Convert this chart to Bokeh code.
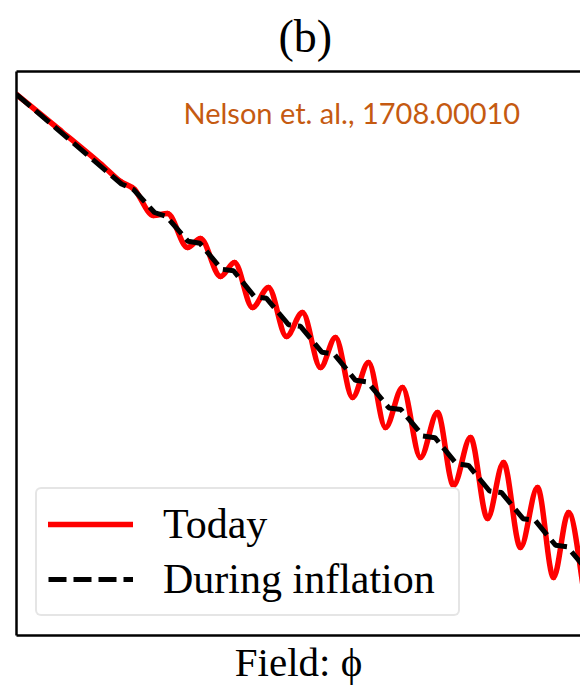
import numpy as np
from bokeh.plotting import figure
from bokeh.models import (Range1d, LinearAxis, Label, Legend, LegendItem,
                          ColumnDataSource, FixedTicker, Title)
from bokeh.embed import file_html
from bokeh.resources import INLINE

# Potential today (field phi, potential V): smooth leading part, then the
# successive local maxima / minima of the ripples
today_phi = [0.00, 0.44, 0.85, 1.04, 1.18, 1.37, 1.51, 1.71, 1.84, 2.04, 2.18,
             2.36, 2.52, 2.70, 2.86, 3.04, 3.19, 3.36, 3.52, 3.69, 3.86, 4.04,
             4.21, 4.37, 4.54, 4.71, 4.87, 5.04, 5.21, 5.37, 5.52, 5.70]
today_v = [5.41, 5.05, 4.71, 4.54, 4.46, 4.20, 4.22, 3.88, 3.97, 3.59, 3.73,
           3.28, 3.48, 2.99, 3.23, 2.68, 2.98, 2.38, 2.73, 2.08, 2.48, 1.78,
           2.23, 1.50, 1.98, 1.17, 1.73, 0.88, 1.48, 0.58, 1.23, 0.28]

# Potential during inflation: start, the ends of each small flat step, end
inflation_phi = [0.000, 1.050, 1.170, 1.380, 1.500, 1.715, 1.835, 2.050, 2.170,
                 2.380, 2.500, 2.720, 2.840, 3.055, 3.175, 3.390, 3.510, 3.725,
                 3.845, 4.065, 4.185, 4.400, 4.520, 4.730, 4.850, 5.065, 5.185,
                 5.390, 5.510, 5.740]
inflation_v = [5.410, 4.515, 4.460, 4.230, 4.190, 3.942, 3.922, 3.663, 3.647,
               3.388, 3.372, 3.108, 3.092, 2.832, 2.816, 2.552, 2.536, 2.275,
               2.259, 1.994, 1.978, 1.717, 1.701, 1.445, 1.429, 1.168, 1.152,
               0.903, 0.887, 0.610]

series_labels = ["Today", "During inflation"]


def hermite_segments(xs, ys):
    """Cubic Bezier pieces through the points; flat tangents at extrema."""
    xs = np.asarray(xs, float)
    ys = np.asarray(ys, float)
    n = len(xs)
    m = np.zeros(n)
    for i in range(n):
        if i == 0:
            m[i] = (ys[1] - ys[0]) / (xs[1] - xs[0])
        elif i == n - 1:
            m[i] = (ys[-1] - ys[-2]) / (xs[-1] - xs[-2])
        elif (ys[i] - ys[i - 1]) * (ys[i + 1] - ys[i]) < 0:
            m[i] = 0.0
        else:
            m[i] = (ys[i + 1] - ys[i - 1]) / (xs[i + 1] - xs[i - 1])
    dx = np.diff(xs)
    x0, x1 = xs[:-1], xs[1:]
    y0, y1 = ys[:-1], ys[1:]
    return dict(x0=x0, y0=y0, x1=x1, y1=y1,
                cx0=x0 + dx / 3, cy0=y0 + m[:-1] * dx / 3,
                cx1=x1 - dx / 3, cy1=y1 - m[1:] * dx / 3)


p = figure(width=580, height=687,
           x_range=Range1d(0, 5.64), y_range=Range1d(0, 5.64),
           output_backend="svg", toolbar_location=None,
           min_border_left=16, min_border_right=0,
           min_border_top=71, min_border_bottom=52)
p.add_layout(LinearAxis(), "above")
p.grid.visible = False
p.outline_line_color = None
p.background_fill_color = "white"
p.border_fill_color = "white"
for ax in p.axis:
    ax.ticker = FixedTicker(ticks=[])
    ax.axis_line_color = "black"
    ax.axis_line_width = 2.5
    ax.major_tick_in = 0
    ax.major_tick_out = 0
    ax.minor_tick_in = 0
    ax.minor_tick_out = 0
    ax.major_label_standoff = 0

xlab = p.below[0]
xlab.axis_label = "Field: ϕ"
xlab.axis_label_text_font = "Liberation Serif"
xlab.axis_label_text_font_style = "normal"
xlab.axis_label_text_font_size = "41px"
xlab.axis_label_text_color = "black"
xlab.axis_label_standoff = 3

# panel label, left-aligned with an offset so it sits centred over the panel
p.add_layout(Title(text="(b)", align="left", offset=262, standoff=16,
                   vertical_align="top",
                   text_font="Liberation Serif", text_font_size="46px",
                   text_font_style="normal", text_color="black"), "above")

src = ColumnDataSource(hermite_segments(today_phi, today_v))
red = p.bezier(x0="x0", y0="y0", x1="x1", y1="y1", cx0="cx0", cy0="cy0",
               cx1="cx1", cy1="cy1", source=src,
               line_color="#ff0000", line_width=5.5, line_cap="round")
dash = p.line(inflation_phi, inflation_v, line_color="black", line_width=5,
              line_dash="18 7")

legend = Legend(items=[LegendItem(label=series_labels[0], renderers=[red]),
                       LegendItem(label=series_labels[1], renderers=[dash])],
                location="bottom_left", margin=19, padding=11,
                glyph_width=85, glyph_height=48, label_height=48,
                label_width=284, label_standoff=30, spacing=7,
                label_text_font="Liberation Serif", label_text_font_size="42px",
                label_text_color="black",
                border_line_color="#cccccc", border_line_width=2,
                background_fill_color="white", background_fill_alpha=0.8)
if "border_radius" in Legend.properties():
    legend.border_radius = 6
p.add_layout(legend, "center")

p.add_layout(Label(x=1.67, y=5.235, text="Nelson et. al., 1708.00010",
                   text_font="Lato", text_font_size="29px", text_align="left",
                   text_baseline="alphabetic", text_color="#c55a11"))

open("out.html", "w").write(file_html(p, INLINE))
